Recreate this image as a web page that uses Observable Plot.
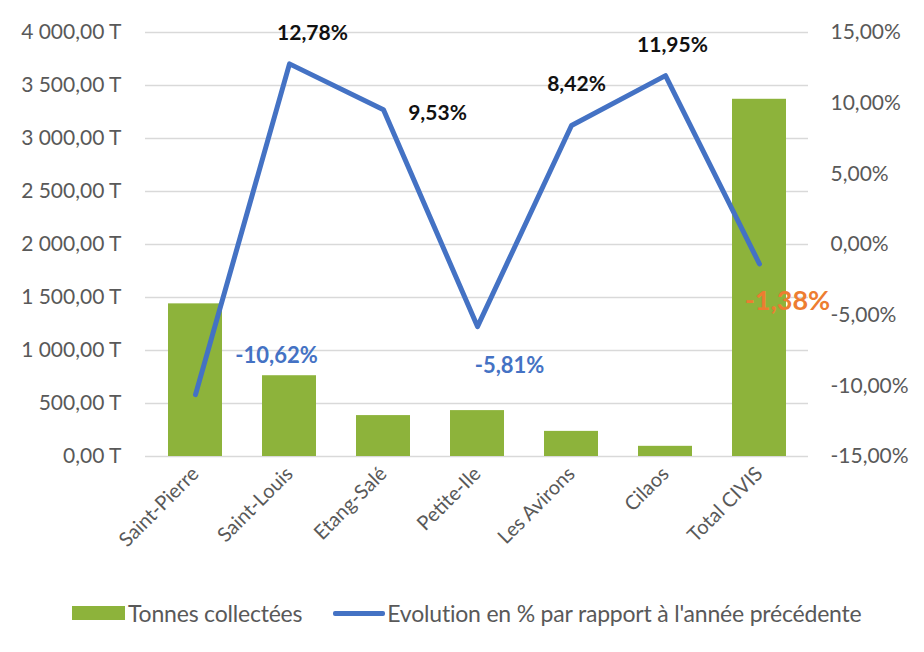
<!DOCTYPE html>
<html><head><meta charset="utf-8">
<script src="https://cdn.jsdelivr.net/npm/d3@7"></script>
<script src="https://cdn.jsdelivr.net/npm/@observablehq/plot@0.6"></script>
<style>
body{margin:0;background:#fff;font-family:Lato,"Open Sans",sans-serif;}
#legend{display:flex;align-items:center;font-size:23px;color:#595959;padding-left:72px;margin-top:19px;letter-spacing:-0.2px;}
.sw{display:inline-block;}
</style>
</head><body><div id="chart"></div><div id="legend"></div>
<script>
const communes = ["Saint-Pierre","Saint-Louis","Etang-Salé","Petite-Ile","Les Avirons","Cilaos","Total CIVIS"];
const tonnes = [1440, 762, 386, 433, 237, 96, 3370];
const evolution = [-10.62, 12.78, 9.53, -5.81, 8.42, 11.95, -1.38];
const tonnesTicks = [0,500,1000,1500,2000,2500,3000,3500,4000];
const pctTicks = [-15,-10,-5,0,5,10,15];
const seriesNames = ["Tonnes collectées","Evolution en % par rapport à l'année précédente"];

// label styling (offsets in px, colours, sizes)
const labelDx = [81, 23, 54, 32, 5, 7, 28];
const labelDy = [-39, -31, 3, 39, -41, -30, 37];
const labelColor = ["#4472C4","#111","#111","#4472C4","#111","#111","#ED7D31"];
const labelSize = [22,21,21,22,21,21,27];

const PMIN = -15, PMAX = 15, TMAX = 4000;
const pctToT = p => (p - PMIN) / (PMAX - PMIN) * TMAX;
const tToPct = t => t / TMAX * (PMAX - PMIN) + PMIN;

const loc = d3.formatLocale({decimal:",", thousands:"\u00a0", grouping:[3], currency:["",""], minus:"-"});
const fT = loc.format(",.2f");
const fP = loc.format(".2f");

const data = communes.map((c,i)=>({commune:c, tonnes:tonnes[i], evo:evolution[i], yEvo:pctToT(evolution[i]),
  label: fP(evolution[i]) + "%", dx:labelDx[i], dy:labelDy[i], color:labelColor[i], size:labelSize[i]}));

const green = "#8DB33B", blue = "#4472C4", grey = "#595959";

const chart = Plot.plot({
  width: 924, height: 580,
  marginLeft: 145, marginRight: 116, marginTop: 32, marginBottom: 124,
  style: {fontFamily: "Lato, 'Open Sans', sans-serif", fontSize: "20px", color: grey, background: "#fff"},
  x: {domain: communes, paddingInner: 0.43, paddingOuter: 0.215, label: null},
  y: {domain: [0, TMAX], label: null},
  marks: [
    Plot.gridY(tonnesTicks, {stroke: "#d9d9d9", strokeOpacity: 1, strokeWidth: 1.5}),
    Plot.barY(data, {x: "commune", y: "tonnes", fill: green}),
    Plot.line(data, {x: "commune", y: "yEvo", stroke: blue, strokeWidth: 5}),
    ...data.map(d => Plot.text([d], {x: "commune", y: "yEvo", text: "label", dx: d.dx, dy: d.dy,
      fill: d.color, fontWeight: "bold", fontSize: d.size})),
    Plot.axisY(tonnesTicks, {anchor: "left", tickSize: 0, tickPadding: 24, fill: grey, fontSize: 21,
      tickFormat: v => fT(v) + " T", label: null}),
    Plot.axisY(pctTicks.map(pctToT), {anchor: "right", tickSize: 0, tickPadding: 22, fill: grey, fontSize: 21,
      tickFormat: v => fP(Math.round(tToPct(v)*100)/100) + "%", label: null}),
    Plot.axisX({tickSize: 0, tickRotate: -45, tickPadding: 14, fill: grey, fontSize: 20, label: null})
  ]
});
document.getElementById("chart").append(chart);

const lg = document.getElementById("legend");
lg.innerHTML = `<span class="sw" style="width:53px;height:14px;background:${green};margin-right:3px"></span><span>${seriesNames[0]}</span>`+
 `<span class="sw" style="width:52px;height:5px;background:${blue};border-radius:2px;margin-left:31px;margin-right:2px"></span><span>${seriesNames[1]}</span>`;
</script>
</body></html>
